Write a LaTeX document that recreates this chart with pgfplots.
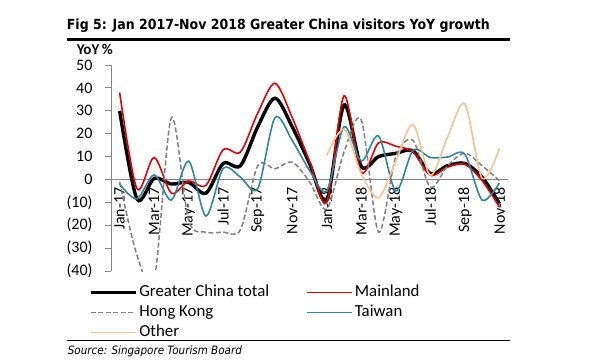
\documentclass[border=0pt]{standalone}
\usepackage{pgfplots}
\pgfplotsset{compat=1.18}
\usepackage{fontspec}
\setmainfont{Carlito}
\newfontfamily\titlefont{DejaVu Sans Condensed}
\definecolor{mred}{RGB}{230,0,0}
\definecolor{tw}{RGB}{49,133,156}
\definecolor{hk}{RGB}{128,128,128}
\definecolor{oth}{RGB}{250,192,144}
\definecolor{axgray}{RGB}{134,134,134}
\begin{document}
\begin{tikzpicture}
\begin{axis}[
  scale only axis, width=397pt, height=206pt,
  xmin=-0.5, xmax=22.5, ymin=-40, ymax=50,
  axis x line*=middle, axis y line*=left,
  axis line style={axgray, line width=0.8pt},
  ytick={-40,-30,...,50},
  yticklabels={(40),(30),(20),(10),0,10,20,30,40,50},
  xtick={0,2,...,22},
  xticklabels={Jan-17,Mar-17,May-17,Jul-17,Sep-17,Nov-17,Jan-18,Mar-18,May-18,Jul-18,Sep-18,Nov-18},
  minor xtick={1.5,3.5,...,21.5},
  xtick style={draw=none},
  minor x tick style={axgray, line width=0.8pt},
  y tick style={axgray, line width=0.8pt},
  tick align=outside,
  major tick length=6pt, minor tick length=5pt,
  ticklabel style={font=\fontsize{16}{19}\selectfont, text=black},
  xticklabel style={rotate=90, anchor=east, inner sep=2pt},
  yticklabel style={xshift=-9pt},
  legend columns=2,
  legend cell align=left,
  legend image code/.code={\draw[#1] (0pt,0pt) -- (45pt,0pt);},
  legend style={at={(-0.056,-0.054)}, anchor=north west, draw=none, fill=none,
    font=\fontsize{16.8}{19}\selectfont, inner sep=0pt, row sep=0pt,
    nodes={inner sep=2pt, anchor=west, text height=12pt, text depth=4pt},
    /tikz/every even column/.append style={column sep=35pt}},
  every axis plot/.append style={smooth, no markers},
]
\coordinate (O) at (rel axis cs:0,0);
\addplot[black, line width=3.4pt] coordinates {
(0,30) (1,-8.5) (2,0.5) (3,-2) (4,-1.3) (5,-6) (6,7) (7,6) (8,23) (9,35.5) (10,23) (11,7)
(12,-9) (13,32.5) (14,5.7) (15,10) (16,11.4) (17,12.5) (18,2.6) (19,6) (20,7) (21,1) (22,-10.5)};
\addlegendentry{Greater China total}
\addplot[mred, line width=1.6pt] coordinates {
(0,38) (1,-4) (2,9.6) (3,-6) (4,-0.7) (5,-2.6) (6,13) (7,12) (8,29) (9,42) (10,27) (11,8)
(12,-10) (13,36.5) (14,3) (15,16) (16,14.5) (17,12) (18,1.8) (19,5.4) (20,6.6) (21,-0.5) (22,-12)};
\addlegendentry{Mainland}
\addplot[hk, line width=1.5pt, dash pattern=on 5pt off 2.5pt] coordinates {
(0,-1) (1,-33) (2,-44) (3,27) (4,-18) (5,-23) (6,-23) (7,-22) (8,6) (9,4.7) (10,7.6) (11,-1)
(12,-13) (13,12) (14,26) (15,-23) (16,10) (17,17) (18,-3.4) (19,6) (20,11.5) (21,6) (22,-0.5)};
\addlegendentry{Hong Kong}
\addplot[tw, line width=1.6pt] coordinates {
(0,-2) (1,-8.5) (2,2) (3,-9) (4,8) (5,-16) (6,4.8) (7,1) (8,-4) (9,27) (10,17) (11,4)
(12,-5) (13,23) (14,8) (15,19) (16,-5) (17,12.7) (18,9.6) (19,9.8) (20,11) (21,-9) (22,-1.6)};
\addlegendentry{Taiwan}
\addplot[oth, line width=1.6pt] coordinates {
(12,10.5) (13,22) (14,2.5) (15,-8) (16,8) (17,24) (18,1.8) (19,18.5) (20,33) (21,0.5) (22,13.5)};
\addlegendentry{Other}
\end{axis}
\pgfresetboundingbox
\begin{scope}[shift={(O)}, x=1pt, y=1pt, shift={(-111,-91)}]
\path[use as bounding box] (0,0) rectangle (600,362);
\node[anchor=base west,inner sep=0pt] at (66.7,332) {\resizebox{423pt}{!}{\titlefont\bfseries Fig 5: Jan 2017-Nov 2018 Greater China visitors YoY growth}};
\draw[line width=2.5pt] (66.7,322.5) -- (510,322.5);
\node[anchor=base west,inner sep=0pt] at (76.7,307) {\fontsize{15}{18}\selectfont\bfseries YoY\,\%};
\draw[line width=1pt] (66.7,22) -- (510,22);
\node[anchor=base west,inner sep=0pt] at (67.7,8) {\resizebox{174pt}{!}{\titlefont\itshape Source: Singapore Tourism Board}};
\end{scope}
\end{tikzpicture}
\end{document}
